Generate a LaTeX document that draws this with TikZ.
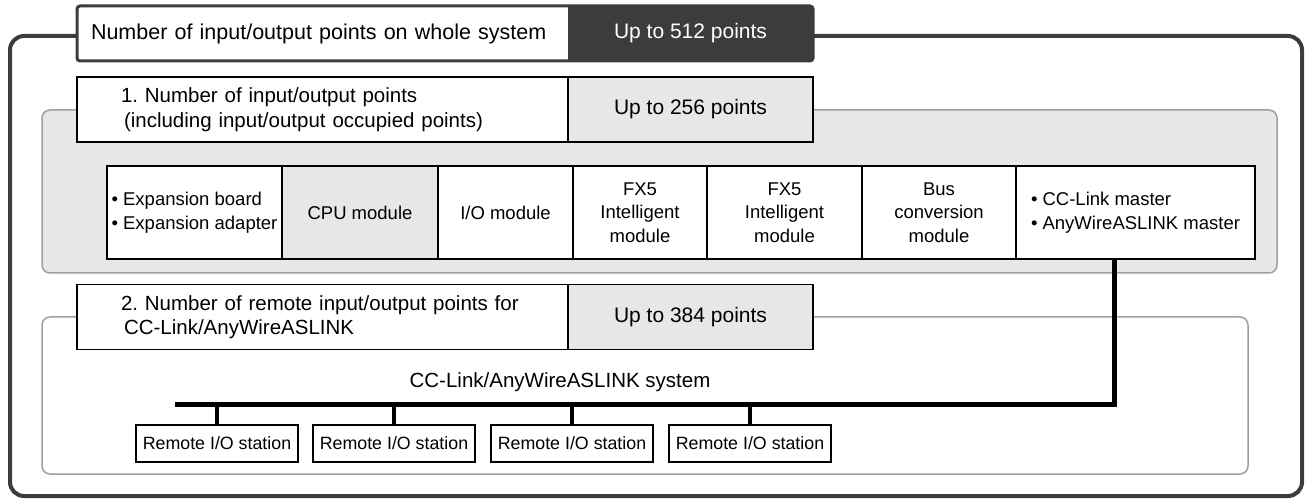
\documentclass[tikz,border=0pt]{standalone}
\usepackage{fontspec}
\setmainfont{Liberation Sans}
\frenchspacing
\usetikzlibrary{positioning}
\definecolor{darkframe}{RGB}{60, 60, 60}
\definecolor{panelgray}{RGB}{230, 231, 232}
\definecolor{panelline}{RGB}{157, 159, 162}

\begin{document}
\begin{tikzpicture}[x=1pt, y=-1pt,
    hdleft/.style={fill=white, minimum height=65pt, text width=403pt, inner xsep=44pt,
      align=left, anchor=west, outer sep=0pt, font=\fontsize{20.5}{24.5}\selectfont},
    hdright/.style={fill=panelgray, minimum width=245pt, minimum height=65pt,
      outer sep=0pt, font=\fontsize{21}{24}\selectfont},
    hdborder/.style={draw=black, line width=1.4pt},
    modcell/.style={draw=black, line width=1.4pt, fill=white, minimum height=93pt,
      inner sep=2pt, outer sep=0pt, align=center, font=\fontsize{18.5}{23.5}\selectfont},
    remote/.style={draw=black, line width=1.2pt, fill=white, minimum width=162pt,
      minimum height=37pt, inner sep=2pt, font=\fontsize{17.8}{19}\selectfont},
    panel/.style={draw=panelline, line width=1.5pt, rounded corners=8pt},
    busline/.style={line width=5pt, black}]
  \useasboundingbox (0,0) rectangle (1308,502);

  % outer frame and the two panels
  \draw[darkframe, line width=4pt, rounded corners=14pt] (10,36) rectangle (1302,496);
  \draw[panel, fill=panelgray] (42,110) rectangle (1277,273);
  \draw[panel, fill=white] (42,317) rectangle (1248,474);

  % whole system
  \node[hdleft, minimum height=55pt, inner xsep=14pt, text width=463pt, font=\fontsize{21.5}{24}\selectfont] (ttl) at (77,33.5) {Number of input/output points on whole system};
  \node[hdright, minimum height=55pt, fill=darkframe, text=white, right=0pt of ttl] (ttlval) {Up to 512 points};
  \draw[darkframe, line width=3pt, rounded corners=3pt] (ttl.north west) rectangle (ttlval.south east);

  % 1. input/output points
  \node[hdleft, hdborder] (hd1) at (77,109.5) {1. Number of input/output points\\\hspace*{3pt}(including input/output occupied points)};
  \node[hdright, hdborder, right=0pt of hd1] (hd1val) {Up to 256 points};

  \node[modcell, anchor=west, minimum width=175pt, align=left] (expn) at (107,212.5) {\textbullet\ Expansion board\\\textbullet\ Expansion adapter};
  \node[modcell, minimum width=156pt, fill=panelgray, right=0pt of expn] (cpu) {CPU module};
  \node[modcell, minimum width=135pt, right=0pt of cpu] (iom) {I/O module};
  \node[modcell, minimum width=134pt, right=0pt of iom] (fxa) {FX5\\Intelligent\\module};
  \node[modcell, minimum width=155pt, right=0pt of fxa] (fxb) {FX5\\Intelligent\\module};
  \node[modcell, minimum width=154pt, right=0pt of fxb] (busc) {Bus\\conversion\\module};
  \node[modcell, minimum width=239pt, align=left, right=0pt of busc] (ccm) {\textbullet\ CC-Link master\\\textbullet\ AnyWireASLINK master};

  % 2. remote input/output points
  \node[hdleft, hdborder] (hd2) at (77,317) {2. Number of remote input/output points for\\\hspace*{3pt}CC-Link/AnyWireASLINK};
  \node[hdright, hdborder, right=0pt of hd2] (hd2val) {Up to 384 points};

  \node[font=\fontsize{20.5}{22}\selectfont] (sys) at (560,382) {CC-Link/AnyWireASLINK system};
  \coordinate (busend) at (175,404);
  \draw[busline] ([xshift=-21.5pt]ccm.south) |- (busend);

  \foreach \i/\x in {1/217,2/394,3/572,4/750}{
    \node[remote] (rio\i) at (\x,443.5) {Remote I/O station};
    \draw[line width=4.5pt] (rio\i.north) -- (rio\i.north |- busend);
  }
\end{tikzpicture}
\end{document}
